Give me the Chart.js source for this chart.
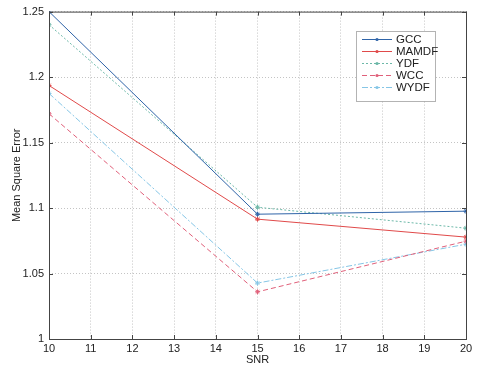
<!DOCTYPE html>
<html>
<head>
<meta charset="utf-8">
<script src="https://cdn.jsdelivr.net/npm/chart.js@4/dist/chart.umd.min.js"></script>
<style>
  html, body { margin: 0; padding: 0; background: #fff; }
  #wrap { width: 484px; height: 367px; }
</style>
</head>
<body>
<div id="wrap"><canvas id="c" width="484" height="367"></canvas></div>
<script>
// SNR values on the x axis
const snr = [10, 15, 20];
const yTicks = [1, 1.05, 1.1, 1.15, 1.2, 1.25];

// series values
const gcc   = [1.250, 1.0953, 1.0976];
const mamdf = [1.1936, 1.0915, 1.0778];
const ydf   = [1.240, 1.1006, 1.0846];
const wcc   = [1.172, 1.036, 1.0747];
const wydf  = [1.1875, 1.0427, 1.0724];

const toPts = (ys) => ys.map((y, i) => ({ x: snr[i], y: y }));

const datasets = [
  { label: 'GCC',   data: toPts(gcc),   borderColor: '#2f64a8', borderDash: [] },
  { label: 'MAMDF', data: toPts(mamdf), borderColor: '#e04a4a', borderDash: [] },
  { label: 'YDF',   data: toPts(ydf),   borderColor: '#6cb8a8', borderDash: [2, 2] },
  { label: 'WCC',   data: toPts(wcc),   borderColor: '#e0607a', borderDash: [5, 3] },
  { label: 'WYDF',  data: toPts(wydf),  borderColor: '#86c6e6', borderDash: [6, 2, 2, 2] }
].map((d) => Object.assign(d, {
  borderWidth: 1,
  fill: false,
  pointStyle: 'star',
  pointRadius: 2.5,
  pointBorderColor: d.borderColor,
  pointBackgroundColor: d.borderColor,
  tension: 0
}));

const fmt = (v) => String(+Number(v).toFixed(2));

// frame around the plot and matlab style legend inside it
const framePlugin = {
  id: 'frame',
  afterDraw(chart) {
    const { ctx, chartArea: a } = chart;
    ctx.save();
    ctx.strokeStyle = '#444';
    ctx.lineWidth = 1;
    ctx.setLineDash([]);
    ctx.strokeRect(a.left + 0.5, a.top + 0.5, a.right - a.left, a.bottom - a.top);

    // inward ticks
    const xs = chart.scales.x, ys = chart.scales.y;
    ctx.beginPath();
    xs.ticks.forEach((t) => {
      const px = Math.round(xs.getPixelForValue(t.value)) + 0.5;
      ctx.moveTo(px, a.bottom); ctx.lineTo(px, a.bottom - 4);
      ctx.moveTo(px, a.top); ctx.lineTo(px, a.top + 4);
    });
    ys.ticks.forEach((t) => {
      const py = Math.round(ys.getPixelForValue(t.value)) + 0.5;
      ctx.moveTo(a.left, py); ctx.lineTo(a.left + 4, py);
      ctx.moveTo(a.right, py); ctx.lineTo(a.right - 4, py);
    });
    ctx.stroke();

    // legend box
    const bx = 356.5, by = 31.5, bw = 79, bh = 70;
    ctx.fillStyle = '#fff';
    ctx.fillRect(bx, by, bw, bh);
    ctx.strokeStyle = '#666';
    ctx.setLineDash([1, 1]);
    ctx.strokeRect(bx, by, bw, bh);
    ctx.font = '11.5px "Liberation Sans", Arial, sans-serif';
    ctx.textBaseline = 'middle';
    chart.data.datasets.forEach((ds, i) => {
      const ly = 39 + i * 12;
      ctx.strokeStyle = ds.borderColor;
      ctx.setLineDash(ds.borderDash);
      ctx.beginPath();
      ctx.moveTo(362, ly + 0.5); ctx.lineTo(392, ly + 0.5);
      ctx.stroke();
      ctx.setLineDash([]);
      ctx.fillStyle = ds.borderColor;
      ctx.beginPath();
      ctx.arc(377, ly + 0.5, 1.6, 0, Math.PI * 2);
      ctx.fill();
      ctx.fillStyle = '#222';
      ctx.fillText(ds.label, 396, ly + 1);
    });
    ctx.restore();
  }
};

const font = { size: 11, family: '"Liberation Sans", Arial' };

new Chart(document.getElementById('c').getContext('2d'), {
  type: 'line',
  data: { datasets: datasets },
  plugins: [framePlugin],
  options: {
    responsive: false,
    animation: false,
    layout: { padding: { top: 11, right: 18, left: 0, bottom: 0 } },
    plugins: { legend: { display: false }, tooltip: { enabled: false } },
    scales: {
      x: {
        type: 'linear',
        min: snr[0],
        max: snr[snr.length - 1],
        afterFit: (s) => { s.height = 28; },
        ticks: { stepSize: 1, color: '#222', padding: 3, font: font, callback: fmt },
        grid: { color: '#c4c4c4', drawTicks: false },
        border: { display: false, dash: [1, 2] },
        title: { display: true, text: 'SNR', color: '#222', padding: 0, font: font }
      },
      y: {
        type: 'linear',
        min: yTicks[0],
        max: yTicks[yTicks.length - 1],
        afterFit: (s) => { s.width = 49; },
        afterBuildTicks: (s) => { s.ticks = yTicks.map((v) => ({ value: v })); },
        ticks: { color: '#222', padding: 5, font: font, callback: fmt },
        grid: { color: '#c4c4c4', drawTicks: false },
        border: { display: false, dash: [1, 2] },
        title: { display: true, text: 'Mean Square Error', color: '#222', padding: { top: 10, bottom: 0 }, font: font }
      }
    }
  }
});
</script>
</body>
</html>
